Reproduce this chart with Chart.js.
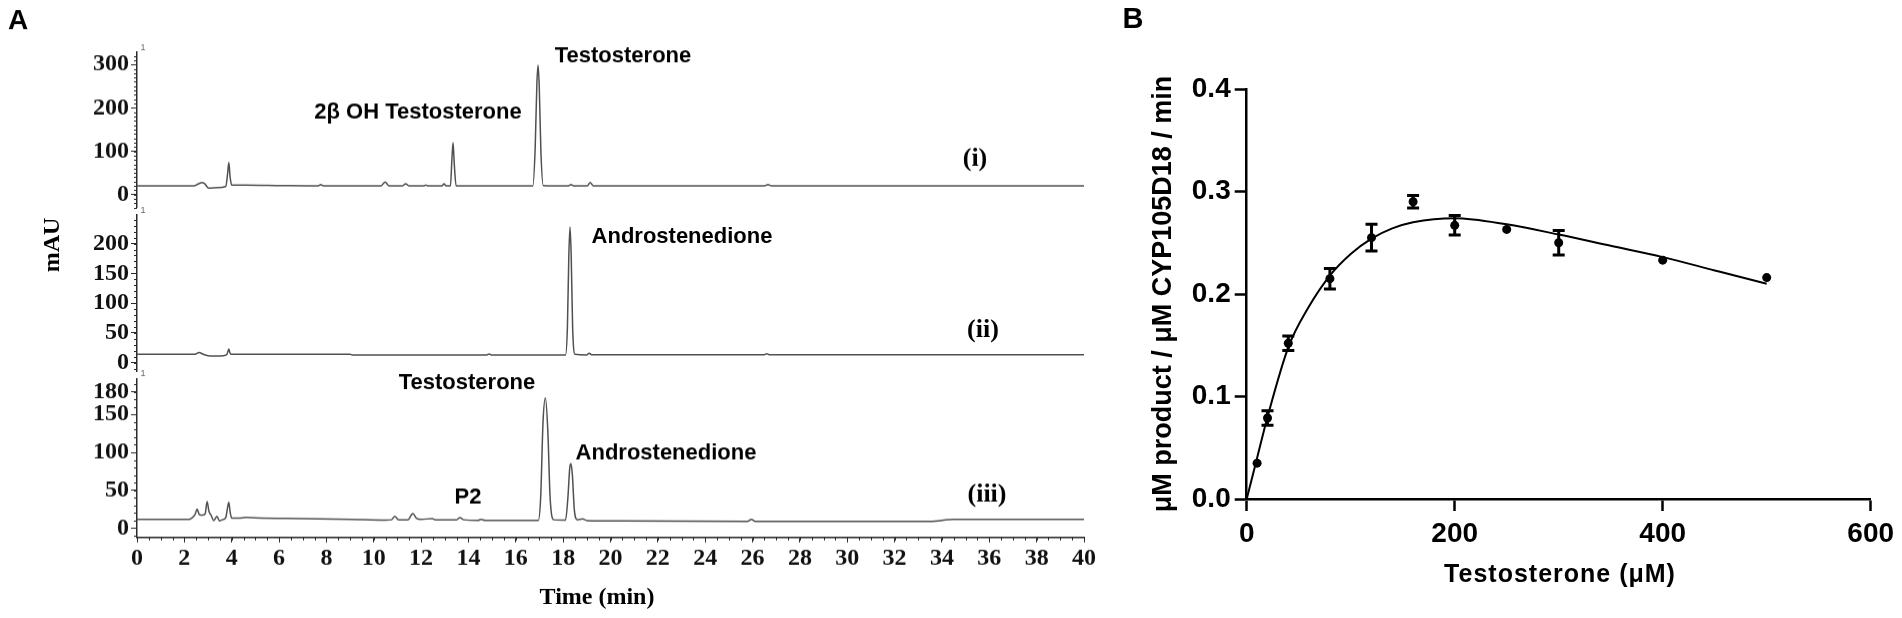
<!DOCTYPE html>
<html>
<head>
<meta charset="utf-8">
<script src="https://cdn.jsdelivr.net/npm/chart.js@4.4.1/dist/chart.umd.min.js"></script>
<style>
  html, body { margin: 0; padding: 0; background: #fff; }
  #page { position: relative; width: 1902px; height: 618px; overflow: hidden; }
  .box { position: absolute; }
</style>
</head>
<body>
<div id="page">
  <div class="box" style="left:0; top:0; width:1114px; height:226.7px"><canvas id="trace-i"></canvas></div>
  <div class="box" style="left:0; top:195px; width:1114px; height:196px"><canvas id="trace-ii"></canvas></div>
  <div class="box" style="left:0; top:359.3px; width:1114px; height:258.7px"><canvas id="trace-iii"></canvas></div>
  <div class="box" style="left:1100px; top:0; width:802px; height:618px"><canvas id="kinetics"></canvas></div>
</div>
<script>
// Panel A - HPLC traces, time (min) vs mAU
const time1 = [0, 2.4, 2.6, 2.74, 2.86, 3.03, 3.4, 3.75, 3.83, 3.88, 3.93, 4.0, 4.6, 6.0, 7.65, 7.76, 7.87, 10.3, 10.48, 10.65,
  11.2, 11.35, 11.5, 12.1, 12.2, 12.3, 12.88, 12.97, 13.06, 13.24, 13.3, 13.35, 13.4, 13.48, 16.72, 16.82, 16.89, 16.94, 16.99, 17.06,
  17.16, 18.22, 18.33, 18.44, 19.02, 19.14, 19.28, 26.5, 26.65, 26.8, 40];
const mau1 = [20, 20, 25, 28, 25, 15, 16, 19, 50, 74, 42, 22, 22, 21, 20, 23, 20, 20, 29, 20,
  20, 25, 20, 20, 22, 20, 20, 25, 20, 20, 80, 120, 72, 20, 20, 110, 255, 298, 250, 100,
  21, 20, 23, 20, 20, 28, 20, 20, 23, 20, 20];

const time2 = [0, 2.45, 2.62, 2.8, 3.1, 3.5, 3.78, 3.85, 3.88, 3.92, 3.98, 9.0, 9.1, 14.78, 14.87, 14.96, 18.1, 18.18, 18.24, 18.29,
  18.34, 18.4, 18.5, 19.0, 19.1, 19.2, 26.5, 26.6, 26.7, 40];
const mau2 = [14, 14, 17, 14, 11, 11, 13, 20, 23, 17, 14, 14, 13, 13, 14.5, 13, 13, 60, 180, 228,
  180, 60, 14, 13, 16, 13.5, 13.5, 15, 13.5, 13.5];

const time3 = [0, 2.2, 2.3, 2.45, 2.54, 2.63, 2.76, 2.88, 2.96, 3.04, 3.13, 3.24, 3.38, 3.48, 3.6, 3.75, 3.83, 3.88, 3.93, 4.0,
  4.3, 4.58, 5.0, 7.0, 9.0, 10.5, 10.75, 10.89, 11.05, 11.45, 11.6, 11.66, 11.8, 12.0, 12.47, 12.6, 13.5, 13.64, 13.8, 14.4,
  14.53, 14.7, 16.95, 17.05, 17.15, 17.25, 17.35, 17.45, 17.6, 18.1, 18.2, 18.28, 18.33, 18.39, 18.47, 18.6, 18.82, 19.0, 20.5, 25.8,
  25.95, 26.1, 33.5, 34.5, 40];
const mau3 = [11.5, 11.5, 13, 18, 25, 18, 17, 19, 35, 22, 17, 10, 15.5, 9.5, 11, 14, 28, 34, 22, 13,
  13, 14, 13.5, 12.5, 11.5, 10.5, 11, 15.5, 11, 11, 18, 19, 13, 11.5, 12.5, 11, 11, 13.8, 11, 10.2,
  11.5, 10.2, 10.2, 40, 140, 172, 130, 40, 11, 10.5, 40, 80, 85, 70, 25, 11, 12, 10, 9.5, 9,
  11.5, 9, 9, 11.5, 11.5];

const timeTicks = [0, 2, 4, 6, 8, 10, 12, 14, 16, 18, 20, 22, 24, 26, 28, 30, 32, 34, 36, 38, 40];
const ticksI = [0, 100, 200, 300];
const ticksII = [0, 50, 100, 150, 200];
const ticksIII = [0, 50, 100, 150, 180];

// Panel B - rate vs testosterone concentration
const conc = [10, 20, 40, 80, 120, 160, 200, 250, 300, 400, 500];
const rate = [0.035, 0.079, 0.152, 0.215, 0.255, 0.290, 0.267, 0.263, 0.250, 0.233, 0.216];
const rateErr = [0, 0.007, 0.007, 0.010, 0.013, 0.006, 0.0095, 0, 0.012, 0, 0];
const fitConc = [0, 10, 20, 40, 60, 80, 100, 120, 140, 160, 200, 250, 300, 350, 400, 450, 500];
const fitRate = [0, 0.040, 0.080, 0.148, 0.188, 0.218, 0.239, 0.254, 0.264, 0.270, 0.274, 0.268, 0.258, 0.247, 0.236, 0.223, 0.210];
const concTicks = [0, 200, 400, 600];
const rateTicks = [0.0, 0.1, 0.2, 0.3, 0.4];

const serif = "'Liberation Serif', 'Times New Roman', serif";
const sans = "'Liberation Sans', Arial, sans-serif";
const axisGrey = '#2a2a2a';
const traceGrey = '#505050';

// free text drawn in page coordinates (ox/oy = canvas offset on the page)
const textPlugin = {
  id: 'texts',
  afterDraw(chart, args, opts) {
    const ctx = chart.ctx;
    (opts.items || []).forEach(it => {
      ctx.save();
      ctx.font = it.font;
      ctx.fillStyle = it.color || '#000';
      ctx.textAlign = 'center';
      ctx.textBaseline = 'middle';
      if (it.spacing) ctx.letterSpacing = it.spacing;
      ctx.translate(it.x - opts.ox, it.y - opts.oy);
      if (it.rotate) ctx.rotate(it.rotate);
      ctx.fillText(it.text, 0, 0);
      ctx.restore();
    });
  }
};

// small ticks between the labelled ones
const minorTicks = {
  id: 'minorTicks',
  afterDraw(chart, args, opts) {
    if (!opts.y && !opts.x) return;
    const ctx = chart.ctx;
    ctx.save();
    ctx.strokeStyle = axisGrey;
    ctx.lineWidth = 1;
    ctx.beginPath();
    if (opts.y) {
      const s = chart.scales.y;
      for (let v = Math.ceil(s.min / opts.y) * opts.y; v <= s.max; v += opts.y) {
        const p = Math.round(s.getPixelForValue(v)) + 0.5;
        ctx.moveTo(s.right - 3, p);
        ctx.lineTo(s.right, p);
      }
    }
    if (opts.x) {
      const s = chart.scales.x;
      for (let v = s.min; v <= s.max + 1e-9; v += opts.x) {
        const p = Math.round(s.getPixelForValue(v)) + 0.5;
        ctx.moveTo(p, s.top);
        ctx.lineTo(p, s.top + 3);
      }
    }
    ctx.stroke();
    ctx.restore();
  }
};

const errorBars = {
  id: 'errorBars',
  afterDatasetsDraw(chart, args, opts) {
    if (!opts.err) return;
    const ctx = chart.ctx, xs = chart.scales.x, ys = chart.scales.y;
    ctx.save();
    ctx.strokeStyle = '#000';
    ctx.lineWidth = 3;
    opts.err.forEach((e, i) => {
      if (!e) return;
      const x = xs.getPixelForValue(opts.xv[i]);
      const y1 = ys.getPixelForValue(opts.yv[i] + e);
      const y2 = ys.getPixelForValue(opts.yv[i] - e);
      ctx.beginPath();
      ctx.moveTo(x, y1); ctx.lineTo(x, y2);
      ctx.moveTo(x - 6, y1); ctx.lineTo(x + 6, y1);
      ctx.moveTo(x - 6, y2); ctx.lineTo(x + 6, y2);
      ctx.stroke();
    });
    ctx.restore();
  }
};

Chart.register(textPlugin, minorTicks, errorBars);

function yScaleA(min, max, ticks) {
  return {
    type: 'linear', min, max,
    afterBuildTicks: s => { s.ticks = ticks.map(v => ({ value: v })); },
    afterFit: s => { s.width = 137; s.paddingTop = 0; s.paddingBottom = 0; },
    border: { display: true, color: axisGrey, width: 1.5 },
    grid: { drawOnChartArea: false, drawTicks: true, tickLength: 6, tickColor: axisGrey, tickWidth: 1 },
    ticks: { color: '#111', padding: 2, font: { family: serif, size: 24, weight: 'bold' } }
  };
}

function traceChart(id, times, values, yMin, yMax, yTicks, showX, padding, texts) {
  const xScale = showX ? {
    type: 'linear', min: 0, max: 40,
    afterBuildTicks: s => { s.ticks = timeTicks.map(v => ({ value: v })); },
    afterFit: s => { s.height = 81; s.paddingLeft = 0; s.paddingRight = 0; },
    border: { display: true, color: axisGrey, width: 1.5 },
    grid: { drawOnChartArea: false, tickLength: 5, tickColor: axisGrey, tickWidth: 1 },
    ticks: { autoSkip: false, maxRotation: 0, padding: 2, color: '#111', font: { family: serif, size: 24, weight: 'bold' } }
  } : { type: 'linear', min: 0, max: 40, display: false };

  return new Chart(document.getElementById(id), {
    type: 'line',
    data: {
      datasets: [{
        data: times.map((t, i) => ({ x: t, y: values[i] })),
        borderColor: traceGrey,
        borderWidth: 1.5,
        pointRadius: 0,
        cubicInterpolationMode: 'monotone'
      }]
    },
    options: {
      responsive: true,
      maintainAspectRatio: false,
      animation: false,
      layout: { padding: padding },
      scales: { x: xScale, y: yScaleA(yMin, yMax, yTicks) },
      plugins: {
        legend: { display: false },
        tooltip: { enabled: false },
        minorTicks: { y: 10, x: showX ? 0.5 : 0 },
        texts: texts
      }
    }
  });
}

const peakFont = `bold 22px ${sans}`;
const romanFont = `bold 26px ${serif}`;
const tinyFont = `9px ${sans}`;

traceChart('trace-i', time1, mau1, -30, 329, ticksI, false,
  { top: 51.7, bottom: 20, left: 0, right: 30 },
  { ox: 0, oy: 0, items: [
    { text: 'A', x: 18, y: 21, font: `bold 28px ${sans}` },
    { text: 'Testosterone', x: 623, y: 56, font: peakFont },
    { text: '2β OH Testosterone', x: 418, y: 112, font: peakFont },
    { text: '(i)', x: 975, y: 158, font: romanFont },
    { text: '1', x: 143, y: 48, font: tinyFont, color: '#666' }
  ] });

traceChart('trace-ii', time2, mau2, -14, 248, ticksII, false,
  { top: 20, bottom: 20, left: 0, right: 30 },
  { ox: 0, oy: 195, items: [
    { text: 'Androstenedione', x: 682, y: 237, font: peakFont },
    { text: '(ii)', x: 983, y: 330, font: romanFont },
    { text: 'mAU', x: 53, y: 245, font: `bold 24px ${serif}`, rotate: -Math.PI / 2 },
    { text: '1', x: 143, y: 211, font: tinyFont, color: '#666' }
  ] });

traceChart('trace-iii', time3, mau3, -12.3, 196.8, ticksIII, true,
  { top: 20, bottom: 0, left: 0, right: 30 },
  { ox: 0, oy: 359.3, items: [
    { text: 'Testosterone', x: 467, y: 383, font: peakFont },
    { text: 'Androstenedione', x: 666, y: 453, font: peakFont },
    { text: 'P2', x: 468, y: 497, font: peakFont },
    { text: '(iii)', x: 987, y: 495, font: romanFont },
    { text: 'Time (min)', x: 597, y: 597, font: `bold 24px ${serif}` },
    { text: '1', x: 143, y: 374, font: tinyFont, color: '#666' }
  ] });

// Panel B
new Chart(document.getElementById('kinetics'), {
  type: 'scatter',
  data: {
    datasets: [{
      type: 'line',
      data: fitConc.map((c, i) => ({ x: c, y: fitRate[i] })),
      borderColor: '#000',
      borderWidth: 2,
      pointRadius: 0,
      cubicInterpolationMode: 'monotone',
      clip: false
    }, {
      data: conc.map((c, i) => ({ x: c, y: rate[i] })),
      pointRadius: 4.5,
      pointBackgroundColor: '#000',
      pointBorderWidth: 0,
      showLine: false
    }]
  },
  options: {
    responsive: true,
    maintainAspectRatio: false,
    animation: false,
    layout: { padding: { top: 89, right: 31.3, bottom: 0, left: 0 } },
    scales: {
      x: {
        type: 'linear', min: 0, max: 600,
        afterBuildTicks: s => { s.ticks = concTicks.map(v => ({ value: v })); },
        afterFit: s => { s.height = 119; s.paddingLeft = 0; s.paddingRight = 0; },
        border: { display: true, color: '#000', width: 2.5 },
        grid: { drawOnChartArea: false, tickLength: 12, tickColor: '#000', tickWidth: 2.5 },
        ticks: { padding: 6, maxRotation: 0, color: '#000', font: { family: sans, size: 28, weight: 'bold' } }
      },
      y: {
        type: 'linear', min: 0, max: 0.4,
        afterBuildTicks: s => { s.ticks = rateTicks.map(v => ({ value: v })); },
        afterFit: s => { s.width = 146.7; s.paddingTop = 0; s.paddingBottom = 0; },
        border: { display: true, color: '#000', width: 2.5 },
        grid: { drawOnChartArea: false, tickLength: 12, tickColor: '#000', tickWidth: 2.5 },
        ticks: { padding: 4, color: '#000', font: { family: sans, size: 28, weight: 'bold' }, callback: v => v.toFixed(1) }
      }
    },
    plugins: {
      legend: { display: false },
      tooltip: { enabled: false },
      errorBars: { xv: conc, yv: rate, err: rateErr },
      texts: { ox: 1100, oy: 0, items: [
        { text: 'B', x: 1133, y: 20, font: `bold 29px ${sans}` },
        { text: 'μM product / μM CYP105D18 / min', x: 1164, y: 294, font: `bold 27px ${sans}`, rotate: -Math.PI / 2 },
        { text: 'Testosterone (μM)', x: 1560, y: 575, font: `bold 25px ${sans}`, spacing: '1px' }
      ] }
    }
  }
});
</script>
</body>
</html>
